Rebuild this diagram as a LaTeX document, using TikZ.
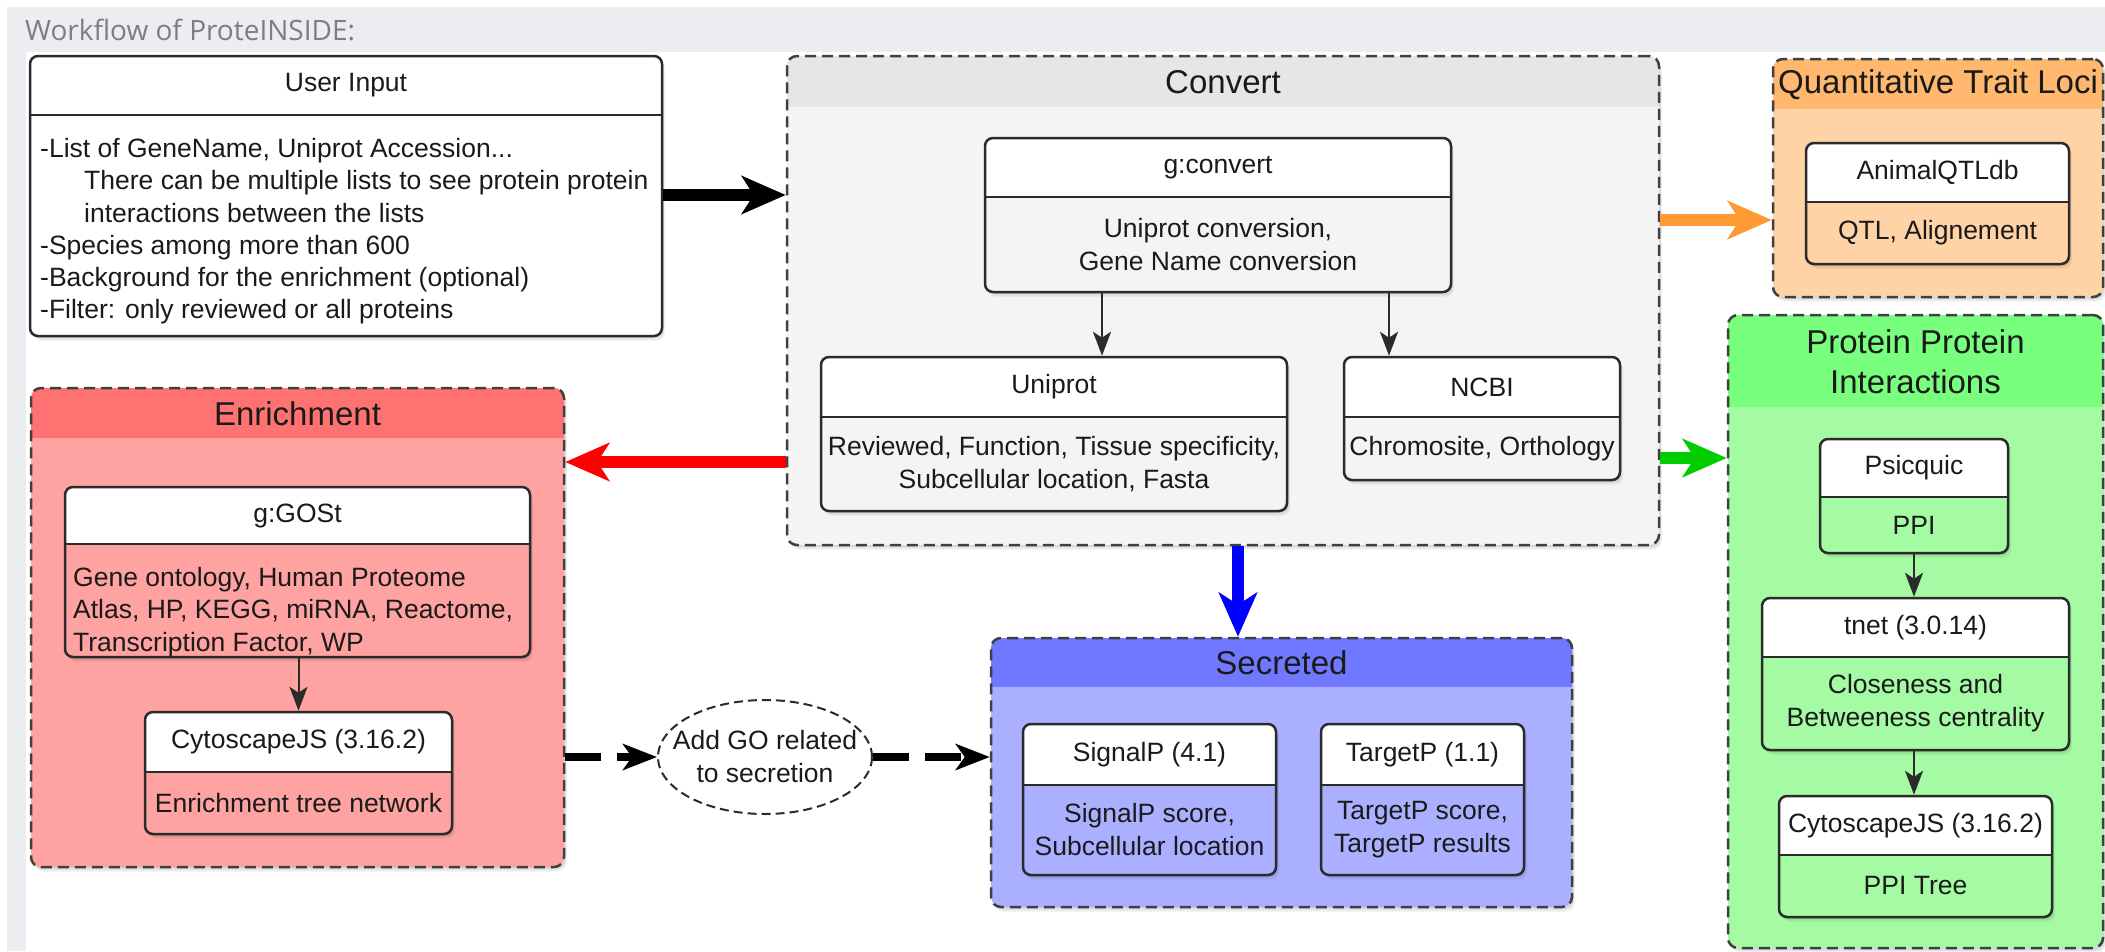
\documentclass[tikz,border=0pt]{standalone}
\usepackage{fontspec}
\setmainfont{Liberation Sans}
\newfontfamily\headfont{Open Sans}
\usetikzlibrary{arrows.meta,fit,shapes.geometric}
\definecolor{framegray}{HTML}{EBEDF0}
\definecolor{boxline}{HTML}{2B2B2B}
\definecolor{dashline}{HTML}{404040}
\definecolor{txtcol}{HTML}{1A1A1A}
\definecolor{convhead}{HTML}{E6E6E6}
\definecolor{convbody}{HTML}{F4F4F4}
\definecolor{enrhead}{HTML}{FF7272}
\definecolor{enrbody}{HTML}{FFA2A2}
\definecolor{qtlhead}{HTML}{FFB86E}
\definecolor{qtlbody}{HTML}{FFD3A6}
\definecolor{ppihead}{HTML}{78FF7D}
\definecolor{ppibody}{HTML}{A4FBA4}
\definecolor{sechead}{HTML}{7078FF}
\definecolor{secbody}{HTML}{AAB0FF}
\definecolor{arrorange}{HTML}{FF9933}
\definecolor{arrgreen}{HTML}{00CC00}
\definecolor{arrred}{HTML}{FF0000}
\definecolor{arrblue}{HTML}{0000FF}
\definecolor{titlegray}{HTML}{7E7E7E}

\newcommand{\softshadow}[5]{%
  \foreach \s in {1,2,3,4}{\fill[black,opacity=0.045,rounded corners=#5] (#1+\s*0.8,#2+\s*1.2) rectangle (#3+\s*0.8,#4+\s*1.2);}}

% name x1 y1 x2 y2 ydiv bodyfill header body
\newcommand{\innerbox}[9]{%
  \softshadow{#2}{#3}{#4}{#5}{8pt}
  \fill[#7,rounded corners=8pt] (#2,#3) rectangle (#4,#5);
  \begin{scope}\clip (#2-2,#3-2) rectangle (#4+2,#6);
    \fill[white,rounded corners=8pt] (#2,#3) rectangle (#4,#5);\end{scope}
  \draw[boxline,line width=2.5pt] (#2,#6) -- (#4,#6);
  \node[fit={(#2,#3) (#4,#5)},inner sep=0pt,draw=boxline,line width=2.5pt,rounded corners=8pt] (#1) {};
  \node[txt] (#1-h) at ({(#2+#4)/2},{(#3+#6)/2}) {#8};
  \node[txt] (#1-b) at ({(#2+#4)/2},{(#6+#5)/2}) {#9};
}

% name x1 y1 x2 y2 ydiv headfill bodyfill title
\newcommand{\groupbox}[9]{%
  \softshadow{#2}{#3}{#4}{#5}{10pt}
  \fill[#8,rounded corners=10pt] (#2,#3) rectangle (#4,#5);
  \begin{scope}\clip (#2-2,#3-2) rectangle (#4+2,#6);
    \fill[#7,rounded corners=10pt] (#2,#3) rectangle (#4,#5);\end{scope}
  \node[fit={(#2,#3) (#4,#5)},inner sep=0pt,draw=dashline,line width=2.5pt,dash pattern=on 11pt off 6pt,rounded corners=10pt] (#1) {};
  \node[ttl] (#1-t) at ({(#2+#4)/2},{(#3+#6)/2+1}) {#9};
}

\begin{document}
\begin{tikzpicture}[x=1pt,y=-1pt,
  txt/.style={font=\fontsize{26.5}{33}\selectfont, text=txtcol, inner sep=0pt, align=center},
  ttl/.style={font=\fontsize{33}{40}\selectfont, text=txtcol, inner sep=0pt, align=center},
  bigarrow/.style={line width=12pt, -{Stealth[length=44pt,width=38pt,inset=12pt]}},
  thinarrow/.style={line width=2pt, draw=boxline, -{Stealth[length=24pt,width=18pt,inset=6pt]}},
  dasharrow/.style={line width=8pt, draw=black, dash pattern=on 36pt off 16pt, -{Stealth[length=34pt,width=26pt,inset=9pt]}}]
\useasboundingbox (0,0) rectangle (2105,951);
\fill[white] (0,0) rectangle (2105,951);
\fill[framegray] (7,7) rectangle (2105,951);
\fill[white] (26,52) rectangle (2105,951);
\node[anchor=base west, inner sep=0pt, font=\headfont\fontsize{28}{34}\selectfont, text=titlegray] (title) at (25,40) {Workflow of ProteINSIDE:};

% User input
\innerbox{uinput}{30}{56}{662}{336}{115}{white}{User Input}{}
\node[txt, align=left, anchor=north west, font=\fontsize{26.5}{32.3}\selectfont] (uinput-t) at (40,138)
 {-List of GeneName, Uniprot Accession...\\
  \hspace*{44pt}There can be multiple lists to see protein protein\\
  \hspace*{44pt}interactions between the lists\\
  -Species among more than 600\\
  -Background for the enrichment (optional)\\
  -Filter: only reviewed or all proteins};

% Convert
\groupbox{convert}{787}{56}{1659}{545}{106}{convhead}{convbody}{Convert}
\innerbox{gconv}{985}{138}{1451}{292}{197}{convbody}{g:convert}{Uniprot conversion,\\Gene Name conversion}
\innerbox{uniprot}{821}{357}{1287}{511}{417}{convbody}{Uniprot}{Reviewed, Function, Tissue specificity,\\Subcellular location, Fasta}
\innerbox{ncbi}{1344}{357}{1620}{480}{417}{convbody}{NCBI}{Chromosite, Orthology}

% QTL
\groupbox{qtl}{1773}{59}{2103}{297}{108}{qtlhead}{qtlbody}{Quantitative Trait Loci}
\innerbox{animal}{1806}{143}{2069}{264}{202}{qtlbody}{AnimalQTLdb}{QTL, Alignement}

% Enrichment
\groupbox{enrich}{31}{388}{564}{867}{437}{enrhead}{enrbody}{Enrichment}
\innerbox{gost}{65}{487}{530}{657}{544}{enrbody}{g:GOSt}{}
\node[txt, align=left, anchor=north west, font=\fontsize{26.5}{32.5}\selectfont] (gost-t) at (73,567)
 {Gene ontology, Human Proteome\\Atlas, HP, KEGG, miRNA, Reactome,\\Transcription Factor, WP};
\innerbox{cytoE}{145}{712}{452}{834}{772}{enrbody}{CytoscapeJS (3.16.2)}{Enrichment tree network}

% Add GO ellipse
\node[ellipse, draw=boxline, line width=2pt, dash pattern=on 9pt off 5pt, fill=white, minimum width=214pt, minimum height=114pt, inner sep=0pt] (addgo) at (765,757) {};
\node[txt] (addgo-t) at (addgo) {Add GO related\\to secretion};

% Secreted
\groupbox{secreted}{991}{638}{1572}{907}{686}{sechead}{secbody}{Secreted}
\innerbox{signalp}{1023}{724}{1276}{875}{785}{secbody}{SignalP (4.1)}{SignalP score,\\Subcellular location}
\innerbox{targetp}{1321}{724}{1524}{875}{785}{secbody}{TargetP (1.1)}{TargetP score,\\TargetP results}

% PPI
\groupbox{ppi}{1728}{315}{2103}{948}{406}{ppihead}{ppibody}{Protein Protein\\Interactions}
\innerbox{psicquic}{1820}{439}{2008}{553}{497}{ppibody}{Psicquic}{PPI}
\innerbox{tnet}{1762}{598}{2069}{750}{657}{ppibody}{tnet (3.0.14)}{Closeness and\\Betweeness centrality}
\innerbox{cytoP}{1779}{796}{2052}{917}{855}{ppibody}{CytoscapeJS (3.16.2)}{PPI Tree}

% big arrows
\coordinate (yblack) at (0,195);
\coordinate (yred) at (0,462);
\coordinate (yorange) at (0,220);
\coordinate (ygreen) at (0,458);
\coordinate (xblue) at (1238,0);
\draw[bigarrow, black] (uinput.east |- yblack) -- (convert.west |- yblack);
\draw[bigarrow, arrred] (convert.west |- yred) -- (enrich.east |- yred);
\draw[bigarrow, arrorange] (convert.east |- yorange) -- (qtl.west |- yorange);
\draw[bigarrow, arrgreen] (convert.east |- ygreen) -- (ppi.west |- ygreen);
\draw[bigarrow, arrblue] (convert.south -| xblue) -- (secreted.north -| xblue);

% thin arrows
\coordinate (xa1) at (1102,0);
\coordinate (xa2) at (1389,0);
\draw[thinarrow] (gconv.south -| xa1) -- (uniprot.north -| xa1);
\draw[thinarrow] (gconv.south -| xa2) -- (ncbi.north -| xa2);
\draw[thinarrow] (gost.south -| cytoE.north) -- (cytoE.north);
\draw[thinarrow] (psicquic.south) -- (tnet.north -| psicquic.south);
\draw[thinarrow] (tnet.south -| psicquic.south) -- (cytoP.north -| psicquic.south);

% dashed arrows
\draw[dasharrow] (enrich.east |- addgo.west) -- (addgo.west);
\draw[dasharrow] (addgo.east) -- (secreted.west |- addgo.east);
\end{tikzpicture}
\end{document}
